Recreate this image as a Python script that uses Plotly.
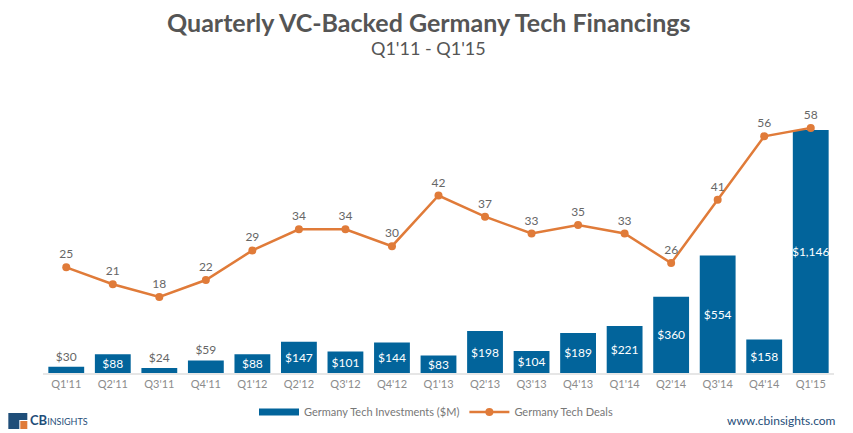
import plotly.graph_objects as go

quarters = ["Q1'11", "Q2'11", "Q3'11", "Q4'11", "Q1'12", "Q2'12", "Q3'12", "Q4'12", "Q1'13",
            "Q2'13", "Q3'13", "Q4'13", "Q1'14", "Q2'14", "Q3'14", "Q4'14", "Q1'15"]
investments = [30, 88, 24, 59, 88, 147, 101, 144, 83, 198, 104, 189, 221, 360, 554, 158, 1146]
deals = [25, 21, 18, 22, 29, 34, 34, 30, 42, 37, 33, 35, 33, 26, 41, 56, 58]
bar_label_pos = ["outside", "inside", "outside", "outside"] + ["inside"] * 13

BLUE = "#02649B"
ORANGE = "#E07B39"
GRAY = "#666666"
FONT = "Lato"

# page body offset compensation
OX, OY = 8, 8
W, H = 853 - OX, 433 - OY
# target pixel positions in the window
L, R, T, B = 42.7, 834.3, 100, 373
def px(x): return (x - L) / (R - L)
def py(y): return (B - y) / (B - T)

fig = go.Figure()
fig.add_trace(go.Bar(
    x=quarters, y=investments, name="Germany Tech Investments ($M)",
    marker=dict(color=BLUE, line=dict(width=0)),
    text=["$" + format(v, ",") for v in investments],
    textposition=bar_label_pos, insidetextanchor="middle", textangle=0,
    insidetextfont=dict(color="white", size=12, family=FONT),
    outsidetextfont=dict(color=GRAY, size=12, family=FONT),
    cliponaxis=False, yaxis="y", showlegend=False,
))
# legend stand-in for the bar series (wide swatch)
fig.add_trace(go.Scatter(
    x=[None], y=[None], mode="lines", name="Germany Tech Investments ($M)",
    line=dict(color=BLUE, width=7), yaxis="y", showlegend=True,
))
fig.add_trace(go.Scatter(
    x=quarters, y=deals, name="Germany Tech Deals", mode="lines+markers+text",
    line=dict(color=ORANGE, width=2.5), marker=dict(color=ORANGE, size=8),
    text=[str(v) for v in deals], textposition="top center",
    textfont=dict(color=GRAY, size=12, family=FONT),
    cliponaxis=False, yaxis="y2",
))

fig.update_layout(
    width=W, height=H, autosize=False,
    margin=dict(l=L - OX, r=853 - R, t=T - OY, b=433 - B, autoexpand=False),
    paper_bgcolor="white", plot_bgcolor="white",
    font=dict(family=FONT, color=GRAY),
    bargap=0.23, showlegend=True,
    uniformtext=dict(minsize=12, mode="show"),
    legend=dict(orientation="h", x=px(436), xanchor="center", y=py(412), yanchor="middle",
                font=dict(size=11, color="#777777", family=FONT), traceorder="normal",
                itemwidth=40),
    xaxis=dict(range=[-0.5, len(quarters) - 0.5], showgrid=False, showline=True,
               linecolor="#E6E6E6", linewidth=1.5,
               ticks="", tickfont=dict(size=11, color="#8C8C8C", family=FONT)),
    yaxis=dict(range=[0, 1287], visible=False, showgrid=False, zeroline=False),
    yaxis2=dict(range=[0, 64.6], overlaying="y", visible=False, showgrid=False, zeroline=False),
    shapes=[
        dict(type="rect", xref="paper", yref="paper", x0=px(8), x1=px(27), y0=py(429), y1=py(413),
             fillcolor="#1F4E79", line=dict(width=0)),
        dict(type="rect", xref="paper", yref="paper", x0=px(19), x1=px(28), y0=py(430), y1=py(420),
             fillcolor="white", line=dict(width=0)),
        dict(type="rect", xref="paper", yref="paper", x0=px(20), x1=px(27), y0=py(429), y1=py(421),
             fillcolor="#E07B39", line=dict(width=0)),
    ],
    annotations=[
        dict(text="<b>Quarterly VC-Backed Germany Tech Financings</b>", xref="paper", yref="paper",
             x=px(428), y=py(22), xanchor="center", yanchor="middle", showarrow=False,
             font=dict(size=25, color="#555555", family=FONT)),
        dict(text="Q1'11 - Q1'15", xref="paper", yref="paper",
             x=px(428), y=py(48), xanchor="center", yanchor="middle", showarrow=False,
             font=dict(size=18, color="#555555", family=FONT)),
        dict(text="<b>CB</b><span style='font-size:9px'>INSIGHTS</span>", xref="paper", yref="paper",
             x=px(28), y=py(420), xanchor="left", yanchor="middle", showarrow=False,
             font=dict(size=13, color="#1F4E79", family=FONT)),
        dict(text="www.cbinsights.com", xref="paper", yref="paper",
             x=px(838), y=py(420), xanchor="right", yanchor="middle", showarrow=False,
             font=dict(size=12, color="#1F4E79", family=FONT)),
    ],
)

fig.write_html("out.html")
